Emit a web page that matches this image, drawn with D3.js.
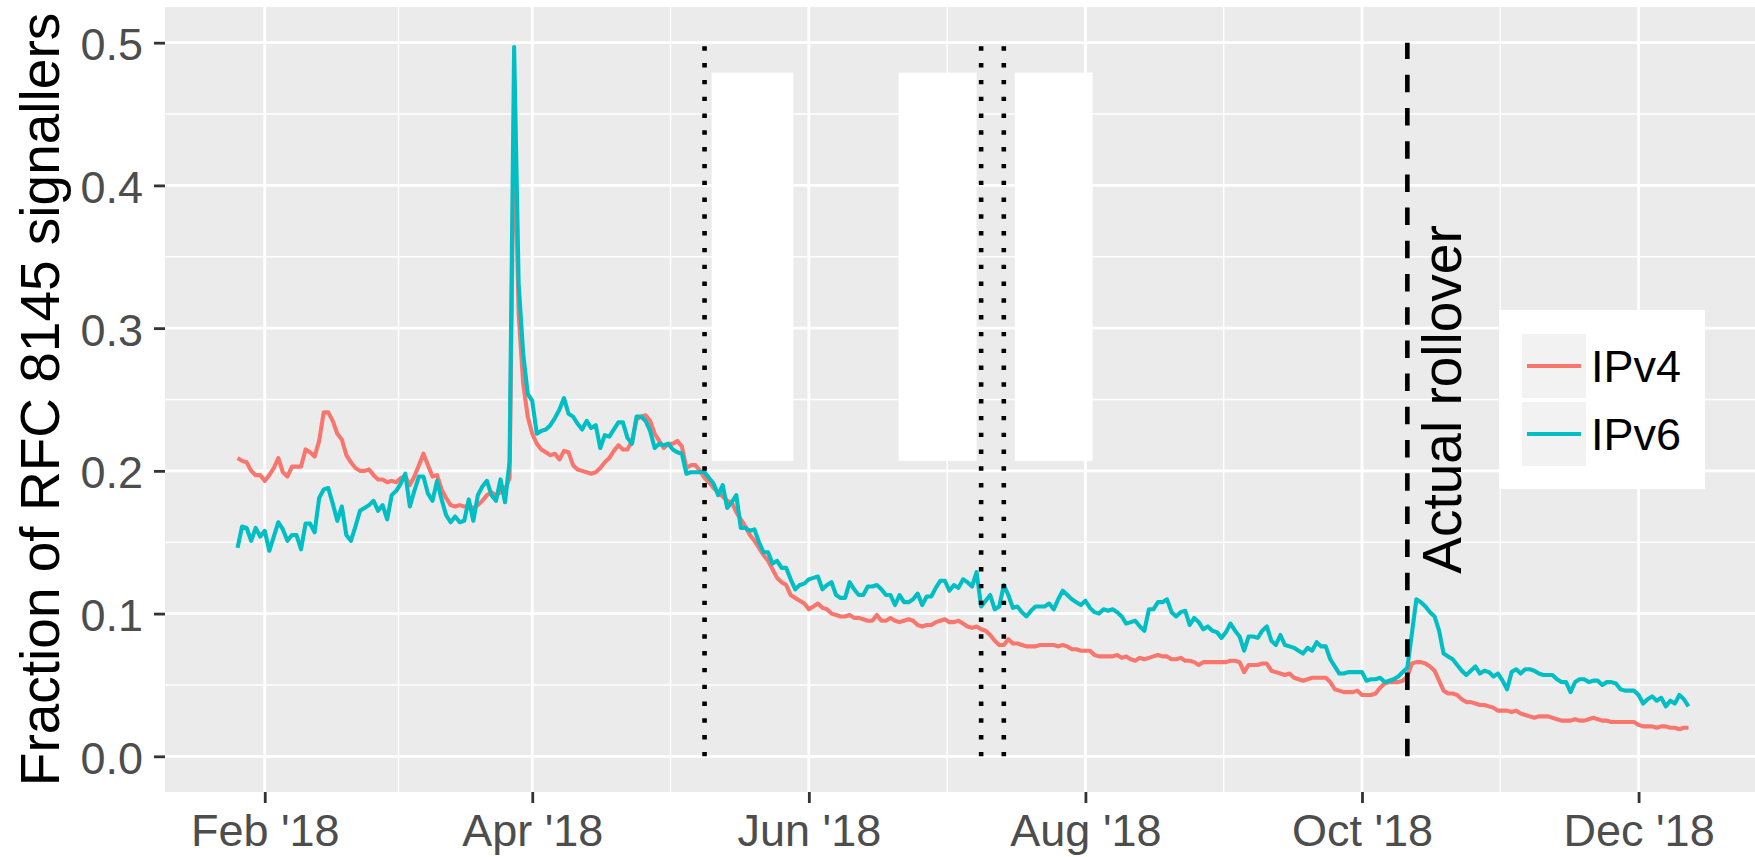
<!DOCTYPE html>
<html>
<head>
<meta charset="utf-8">
<script src="https://cdn.jsdelivr.net/npm/d3@7"></script>
<style>
  body { margin: 0; background: #fff; }
  svg { display: block; font-family: "Liberation Sans", Arial, Helvetica, sans-serif; }
</style>
</head>
<body>
<svg id="chart" width="1755" height="857"></svg>
<script>
// Daily values, first day is 2018-01-26
const startDay = "2018-01-26";

const ipv4 = [
  .209,.207,.206,.200,.197,.197,.193,.197,.202,.209,
  .199,.196,.203,.203,.203,.215,.213,.210,.221,.241,
  .241,.235,.226,.222,.211,.206,.202,.200,.200,.201,
  .197,.194,.194,.192,.193,.192,.195,.196,.190,.196,
  .204,.212,.204,.196,.197,.187,.181,.176,.175,.176,
  .175,.175,.174,.176,.179,.183,.185,.183,.185,.187,
  .195,.450,.310,.261,.238,.226,.219,.215,.213,.211,
  .212,.208,.214,.213,.204,.201,.200,.199,.198,.199,
  .202,.206,.209,.214,.218,.215,.215,.221,.236,.238,
  .239,.235,.226,.221,.216,.219,.219,.221,.217,.202,
  .204,.204,.200,.195,.192,.188,.185,.182,.179,.178,
  .171,.166,.161,.155,.151,.146,.141,.137,.131,.125,
  .122,.120,.113,.111,.109,.107,.103,.105,.107,.104,
  .103,.100,.099,.098,.098,.099,.097,.097,.096,.095,
  .095,.099,.095,.095,.097,.095,.094,.095,.096,.095,
  .092,.091,.092,.092,.094,.095,.096,.094,.094,.095,
  .093,.091,.090,.091,.089,.088,.085,.081,.078,.078,
  .082,.079,.079,.078,.077,.077,.077,.078,.078,.078,
  .078,.077,.078,.077,.075,.075,.074,.074,.074,.071,
  .070,.070,.070,.070,.071,.069,.070,.068,.067,.069,
  .068,.069,.070,.071,.070,.070,.068,.068,.069,.067,
  .067,.066,.064,.066,.066,.066,.066,.066,.066,.067,
  .067,.066,.059,.064,.064,.064,.065,.065,.060,.059,
  .058,.057,.058,.055,.054,.053,.054,.055,.055,.055,
  .055,.052,.047,.046,.045,.045,.045,.046,.043,.043,
  .043,.044,.048,.051,.052,.052,.052,.053,.056,.065,
  .066,.066,.065,.063,.060,.053,.046,.044,.044,.043,
  .040,.038,.038,.037,.036,.036,.035,.034,.032,.032,
  .032,.031,.032,.030,.029,.028,.027,.028,.028,.028,
  .027,.026,.025,.025,.025,.026,.025,.025,.026,.027,
  .026,.025,.025,.024,.024,.024,.024,.024,.024,.022,
  .021,.021,.021,.020,.021,.021,.020,.020,.019,.020,
  .020
];

const ipv6 = [
  .146,.161,.160,.151,.160,.154,.158,.144,.154,.164,
  .159,.151,.155,.155,.145,.163,.163,.157,.181,.187,
  .188,.177,.165,.175,.155,.151,.161,.172,.174,.176,
  .179,.172,.176,.166,.183,.186,.191,.198,.175,.186,
  .196,.196,.184,.179,.193,.180,.169,.164,.168,.164,
  .165,.180,.165,.183,.189,.193,.183,.179,.194,.178,
  .207,.497,.331,.282,.254,.249,.226,.228,.229,.232,
  .237,.243,.251,.240,.238,.233,.229,.235,.230,.232,
  .216,.225,.224,.229,.234,.234,.223,.219,.238,.238,
  .235,.228,.216,.219,.218,.219,.215,.213,.212,.198,
  .199,.199,.199,.199,.195,.191,.183,.190,.174,.178,
  .183,.160,.160,.158,.159,.150,.143,.143,.135,.137,
  .132,.132,.124,.117,.120,.121,.124,.125,.126,.117,
  .120,.122,.113,.111,.111,.122,.117,.113,.113,.119,
  .119,.120,.117,.113,.113,.106,.113,.108,.108,.110,
  .114,.106,.112,.112,.118,.123,.123,.116,.120,.118,
  .124,.122,.119,.129,.105,.109,.113,.103,.105,.120,
  .113,.104,.105,.101,.098,.102,.105,.105,.105,.107,
  .103,.110,.116,.113,.110,.108,.106,.109,.104,.101,
  .100,.103,.102,.103,.101,.098,.093,.094,.095,.091,
  .088,.103,.103,.108,.108,.110,.101,.098,.101,.102,
  .092,.097,.094,.089,.091,.088,.087,.083,.087,.093,
  .088,.084,.074,.084,.084,.083,.088,.091,.081,.078,
  .085,.078,.077,.076,.074,.072,.076,.074,.080,.077,
  .077,.068,.063,.058,.058,.059,.059,.059,.059,.053,
  .054,.054,.055,.052,.053,.054,.056,.059,.062,.086,
  .110,.108,.105,.101,.098,.088,.072,.070,.068,.064,
  .060,.057,.060,.063,.058,.060,.059,.056,.058,.053,
  .047,.059,.061,.058,.061,.061,.060,.058,.057,.057,
  .057,.054,.052,.052,.045,.052,.054,.054,.052,.053,
  .053,.050,.052,.052,.051,.047,.046,.046,.046,.043,
  .037,.040,.042,.039,.041,.035,.039,.037,.043,.040,
  .035
];

const seriesNames = ["IPv4", "IPv6"];
const seriesColors = ["#F8766D", "#00BFC4"];

const xTickDates = ["2018-02-01", "2018-04-01", "2018-06-01", "2018-08-01", "2018-10-01", "2018-12-01"];
const xTickLabels = ["Feb '18", "Apr '18", "Jun '18", "Aug '18", "Oct '18", "Dec '18"];
const yTicks = [0, 0.1, 0.2, 0.3, 0.4, 0.5];

// events marked with vertical lines, from 0 up to 0.5
const eventDates = ["2018-05-09", "2018-07-09", "2018-07-14"];
const rolloverDate = "2018-10-11";
const rolloverLabel = "Actual rollover";
const markerTop = 0.5;

// blanked-out label boxes (start, end) and their value range
const blankBoxes = [
  ["2018-05-10T14:00Z", "2018-05-28T14:00Z"],
  ["2018-06-20T19:00Z", "2018-07-08T00:00Z"],
  ["2018-07-16T10:00Z", "2018-08-02T14:00Z"]
];
const blankRange = [0.207, 0.479];

const yTitle = "Fraction of RFC 8145 signallers";

// ---------------------------------------------------------------
const W = 1755, H = 857;
const panel = { left: 165, top: 7, right: 1761, bottom: 792 };
const svg = d3.select("#chart");

const day0 = new Date(startDay + "T00:00Z");
const toRows = vals => vals.map((v, i) => ({ date: d3.utcDay.offset(day0, i), value: v }));
const series = [toRows(ipv4), toRows(ipv6)];

// x expanded by 5% like ggplot
const lastDay = d3.utcDay.offset(day0, ipv4.length - 1);
const span = lastDay - day0;
const x = d3.scaleUtc()
  .domain([new Date(+day0 - span * 0.05), new Date(+lastDay + span * 0.05)])
  .range([panel.left, panel.right]);

// y covers 0..0.5 plus 5%
const y = d3.scaleLinear()
  .domain([-0.025, 0.525])
  .range([panel.bottom, panel.top]);

svg.append("rect").attr("width", W).attr("height", H).attr("fill", "#fff");

// panel background
svg.append("rect")
  .attr("x", panel.left).attr("y", panel.top)
  .attr("width", panel.right - panel.left).attr("height", panel.bottom - panel.top)
  .attr("fill", "#ebebeb");

const grid = svg.append("g");
const xMajor = xTickDates.map(d => new Date(d + "T00:00Z"));
const xMinor = d3.pairs(xMajor).map(([a, b]) => x.invert((x(a) + x(b)) / 2));
const yMinor = d3.pairs(yTicks).map(([a, b]) => (a + b) / 2);

// minor grid
grid.selectAll(".ymin").data(yMinor).enter().append("line")
  .attr("x1", panel.left).attr("x2", panel.right)
  .attr("y1", d => y(d)).attr("y2", d => y(d))
  .attr("stroke", "#fff").attr("stroke-width", 1.4);
grid.selectAll(".xmin").data(xMinor).enter().append("line")
  .attr("x1", d => x(d)).attr("x2", d => x(d))
  .attr("y1", panel.top).attr("y2", panel.bottom)
  .attr("stroke", "#fff").attr("stroke-width", 1.4);

// major grid
grid.selectAll(".ymaj").data(yTicks).enter().append("line")
  .attr("x1", panel.left).attr("x2", panel.right)
  .attr("y1", d => y(d)).attr("y2", d => y(d))
  .attr("stroke", "#fff").attr("stroke-width", 2.8);
grid.selectAll(".xmaj").data(xMajor).enter().append("line")
  .attr("x1", d => x(d)).attr("x2", d => x(d))
  .attr("y1", panel.top).attr("y2", panel.bottom)
  .attr("stroke", "#fff").attr("stroke-width", 2.8);

// series lines
const line = d3.line().x(d => x(d.date)).y(d => y(d.value));
svg.append("g")
  .selectAll("path")
  .data(series)
  .enter()
  .append("path")
  .attr("d", line)
  .attr("fill", "none")
  .attr("stroke", (d, i) => seriesColors[i])
  .attr("stroke-width", 4.1)
  .attr("stroke-linejoin", "round");

// dotted event lines
svg.append("g")
  .selectAll("line")
  .data(eventDates)
  .enter()
  .append("line")
  .attr("x1", d => x(new Date(d + "T00:00Z"))).attr("x2", d => x(new Date(d + "T00:00Z")))
  .attr("y1", y(0)).attr("y2", y(markerTop))
  .attr("stroke", "#000").attr("stroke-width", 4.6)
  .attr("stroke-dasharray", "4.4,12.4");

// white boxes
svg.append("g")
  .selectAll("rect")
  .data(blankBoxes)
  .enter()
  .append("rect")
  .attr("x", d => x(new Date(d[0])))
  .attr("width", d => x(new Date(d[1])) - x(new Date(d[0])))
  .attr("y", y(blankRange[1]))
  .attr("height", y(blankRange[0]) - y(blankRange[1]))
  .attr("fill", "#fff");

// rollover
const xr = x(new Date(rolloverDate + "T00:00Z"));
svg.append("line")
  .attr("x1", xr).attr("x2", xr)
  .attr("y1", y(0)).attr("y2", y(markerTop))
  .attr("stroke", "#000").attr("stroke-width", 4.6)
  .attr("stroke-dasharray", "17.5,15.7");
svg.append("text")
  .attr("transform", `translate(${xr + 54},${y(0.25)}) rotate(-90)`)
  .attr("text-anchor", "middle")
  .attr("font-size", 55)
  .attr("fill", "#000")
  .text(rolloverLabel);

// Add Y axis
const yAxis = svg.append("g")
  .attr("transform", `translate(${panel.left},0)`)
  .call(d3.axisLeft(y).tickValues(yTicks).tickFormat(d3.format(".1f")).tickSize(11).tickPadding(11));
yAxis.select(".domain").remove();
yAxis.selectAll(".tick line").attr("stroke", "#333").attr("stroke-width", 2.8);
yAxis.selectAll(".tick text")
  .attr("fill", "#4d4d4d").attr("font-size", 45).attr("font-family", null)
  .attr("dy", "0.38em");

// Add X axis
const xAxis = svg.append("g")
  .attr("transform", `translate(0,${panel.bottom})`)
  .call(d3.axisBottom(x).tickValues(xMajor).tickFormat((d, i) => xTickLabels[i]).tickSize(11).tickPadding(11));
xAxis.select(".domain").remove();
xAxis.selectAll(".tick line").attr("stroke", "#333").attr("stroke-width", 2.8);
xAxis.selectAll(".tick text")
  .attr("fill", "#4d4d4d").attr("font-size", 45).attr("font-family", null);

// Y axis label
svg.append("text")
  .attr("transform", `translate(59,${(panel.top + panel.bottom) / 2}) rotate(-90)`)
  .attr("text-anchor", "middle")
  .attr("font-size", 55)
  .attr("fill", "#000")
  .text(yTitle);

// Legend
const legend = svg.append("g").attr("transform", "translate(1499,310)");
legend.append("rect").attr("width", 206).attr("height", 179).attr("fill", "#fff");
const keys = legend.selectAll(".key")
  .data(seriesNames)
  .enter()
  .append("g")
  .attr("transform", (d, i) => `translate(23,${24 + i * 68})`);
keys.append("rect").attr("width", 64).attr("height", 64).attr("fill", "#f2f2f2");
keys.append("line")
  .attr("x1", 5).attr("x2", 59).attr("y1", 32).attr("y2", 32)
  .attr("stroke", (d, i) => seriesColors[i]).attr("stroke-width", 4.1);
keys.append("text")
  .attr("x", 69).attr("y", 32 + 16)
  .attr("font-size", 45)
  .attr("fill", "#000")
  .text(d => d);
</script>
</body>
</html>
